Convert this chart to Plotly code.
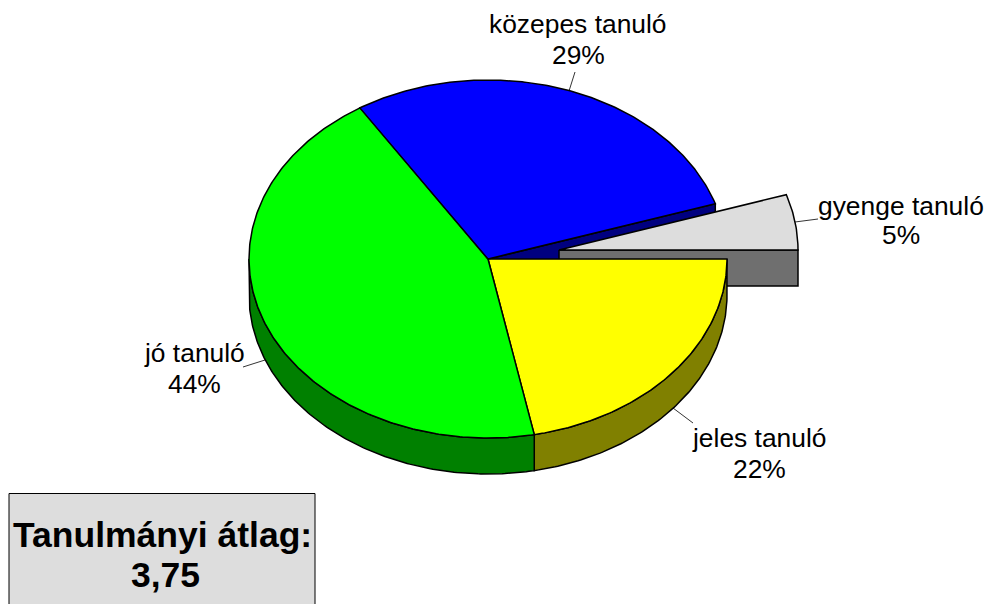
import numpy as np
import plotly.graph_objects as go

# Data (in drawing order, clockwise from the 3 o'clock position)
categories = ["jeles tanuló", "jó tanuló", "közepes tanuló", "gyenge tanuló"]
percent = [21.9, 44.1, 29, 5]
top_colors = ["#FFFF00", "#00FF00", "#0000FF", "#DDDDDD"]
side_colors = ["#808000", "#008000", "#000080", "#6F6F6F"]
average_lines = ["Tanulmányi átlag:", "3,75"]

W, H = 988, 604
CX, CY, RX, RY, DEPTH = 488, 259, 239, 179, 36
EXPLODE_DX, EXPLODE_DY = 71, -9
LW = 1.5

total = sum(percent)
edges = np.cumsum([0] + percent) / total * 2 * np.pi


def arc(a0, a1, cx=CX, cy=CY, dy=0):
    t = np.linspace(a0, a1, max(int((a1 - a0) * 90), 2))
    return cx + RX * np.cos(t), cy + dy + RY * np.sin(t)


def poly(xs, ys, fill):
    return go.Scatter(
        x=list(xs), y=list(ys), mode="lines", fill="toself", fillcolor=fill,
        line=dict(color="black", width=LW), hoverinfo="skip", showlegend=False,
    )


fig = go.Figure()

# back-facing radial wall of the közepes slice
a = edges[3]
rx_, ry_ = CX + RX * np.cos(a), CY + RY * np.sin(a)
fig.add_trace(poly([CX, rx_, rx_, CX, CX], [CY, ry_, ry_ + DEPTH, CY + DEPTH, CY], side_colors[2]))

# exploded slice: front wall, then top
a0, a1 = edges[3], edges[4]
ex, ey = CX + EXPLODE_DX, CY + EXPLODE_DY
fig.add_trace(poly([ex, ex + RX, ex + RX, ex, ex], [ey, ey, ey + DEPTH, ey + DEPTH, ey], side_colors[3]))
x, y = arc(a0, a1, ex, ey)
fig.add_trace(poly(np.r_[ex, x, ex], np.r_[ey, y, ey], top_colors[3]))

# outer walls of the front-facing part of the main pie
for i in range(2):
    lo, hi = edges[i], min(edges[i + 1], np.pi)
    x, y = arc(lo, hi)
    xb, yb = arc(lo, hi, dy=DEPTH)
    fig.add_trace(poly(np.r_[x, xb[::-1], x[0]], np.r_[y, yb[::-1], y[0]], side_colors[i]))

# top faces of the main pie
for i in range(3):
    x, y = arc(edges[i], edges[i + 1])
    fig.add_trace(poly(np.r_[CX, x, CX], np.r_[CY, y, CY], top_colors[i]))

# leader lines
leaders = [
    (673, 408, 693, 423),
    (265, 360, 243, 367),
    (569, 91, 575, 72),
    (795, 222, 818, 219),
]
shapes = [
    dict(type="line", xref="x", yref="y", x0=a_, y0=b_, x1=c_, y1=d_,
         line=dict(color="black", width=0.8))
    for a_, b_, c_, d_ in leaders
]
# summary box
shapes.append(dict(type="rect", xref="x", yref="y", x0=9, y0=493.5, x1=315, y1=620,
                   fillcolor="#DDDDDD", line=dict(color="black", width=1)))


def txt(s, px, py, size, bold=False):
    return dict(x=px, y=py, xref="x", yref="y", text=f"<b>{s}</b>" if bold else s,
                showarrow=False, xanchor="center", yanchor="middle",
                font=dict(family="Liberation Sans", size=size, color="black"))


label_pos = [(759, 438, 469), (194, 353, 384), (578, 24, 55), (901, 206, 235)]
annotations = []
for c, v, (px, y1, y2) in zip(categories, percent, label_pos):
    annotations.append(txt(c, px, y1, 26.4))
    annotations.append(txt(f"{round(v)}%", px, y2, 26.4))
annotations.append(txt(average_lines[0], 162, 535, 35.5, True))
annotations.append(txt(average_lines[1], 165, 575, 35.5, True))

fig.update_layout(
    width=W, height=H, margin=dict(l=0, r=0, t=0, b=0),
    paper_bgcolor="white", plot_bgcolor="white",
    xaxis=dict(range=[0, W], visible=False, fixedrange=True),
    yaxis=dict(range=[H, 0], visible=False, fixedrange=True),
    shapes=shapes, annotations=annotations, showlegend=False,
)
fig.write_html("out.html", config={"displayModeBar": False},
               post_script="document.body.style.margin='0';document.body.style.overflow='hidden';")
